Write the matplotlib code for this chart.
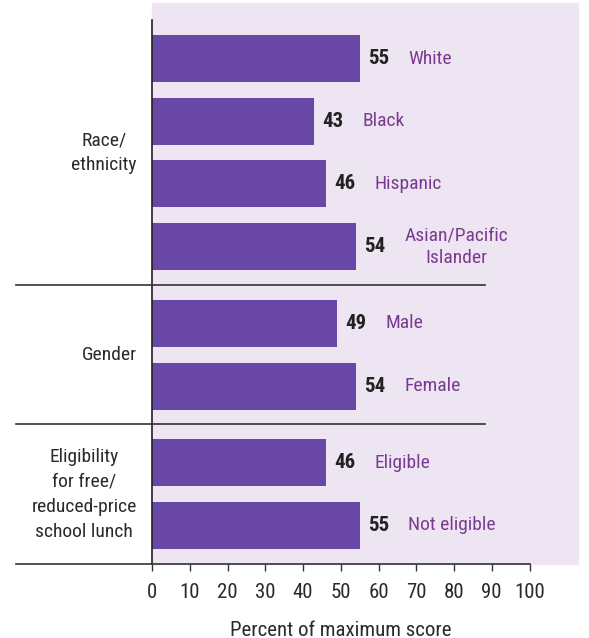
import matplotlib
matplotlib.use('Agg')
import matplotlib.pyplot as plt
from matplotlib.patches import Rectangle

groups = ['Race/\nethnicity', 'Gender', 'Eligibility\nfor free/\nreduced-price\nschool lunch']
group_sizes = [4, 2, 2]
categories = ['White', 'Black', 'Hispanic', 'Asian/Pacific\nIslander', 'Male', 'Female', 'Eligible', 'Not eligible']
values = [55, 43, 46, 54, 49, 54, 46, 55]
xticks = [0, 10, 20, 30, 40, 50, 60, 70, 80, 90, 100]

plt.rcParams['font.family'] = ['Roboto Condensed', 'DejaVu Sans']

bar_color = '#6847a6'
label_color = '#7b3a92'
text_color = '#2a2a2a'
bg_color = '#eee5f3'

W, H = 589, 638
fig = plt.figure(figsize=(W / 100, H / 100), dpi=100)

ax = fig.add_axes([152 / W, 1 - 564 / H, (529.5 - 152) / W, (564 - 20) / H])
ax.patch.set_alpha(0)

# lavender paper behind the bars
ax.add_patch(Rectangle((152 / W, 1 - 564 / H), (578 - 152) / W, (564 - 3) / H,
                       transform=fig.transFigure, color=bg_color, zorder=0, clip_on=False))

gap = 0.224
ypos = []
bounds = []
y = 0
for n in group_sizes:
    start = y
    for i in range(n):
        ypos.append(y)
        y += 1
    bounds.append((start, y - 1))
    y += gap

ax.barh(ypos, values, height=0.75, color=bar_color, zorder=2)

for yy, v, c in zip(ypos, values, categories):
    ax.annotate(str(v), (v, yy), xytext=(6, 0), textcoords='offset points',
                ha='left', va='center', fontsize=15, fontweight='bold', color='#222222')
    ax.annotate(c, (v, yy), xytext=(35, 0), textcoords='offset points',
                ha='left', va='center', fontsize=14, color=label_color,
                multialignment='center', linespacing=1.3)

lo = -0.616
hi = ypos[-1] + 0.616
ax.set_ylim(hi, lo)
ax.set_xlim(0, 100)

for (a, b), g in zip(bounds, groups):
    ax.text(-4.0, (a + b) / 2, g, ha='right', va='center', fontsize=14,
            color=text_color, multialignment='center', linespacing=1.5)

# separators between groups
for (a, b), (c, d) in zip(bounds[:-1], bounds[1:]):
    ymid = (b + c) / 2
    ax.plot([-36.1, 88.3], [ymid, ymid], color='#333333', lw=1.2, clip_on=False, zorder=3)
ax.plot([-36.1, 100], [hi, hi], color='#333333', lw=1.2, clip_on=False, zorder=3)

for s in ['top', 'right', 'bottom']:
    ax.spines[s].set_visible(False)
ax.spines['left'].set_color('#222222')
ax.spines['left'].set_linewidth(1.2)

ax.set_yticks([])
ax.set_xticks(xticks)
ax.tick_params(axis='x', direction='out', length=5, width=1, color='#333333',
               labelsize=15, labelcolor=text_color, pad=9)
ax.set_xlabel('Percent of maximum score', fontsize=15, color=text_color, labelpad=13)

fig.savefig('out.png', dpi=100)
